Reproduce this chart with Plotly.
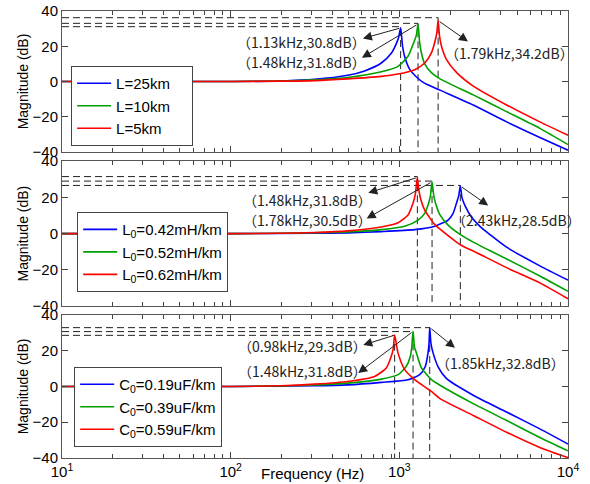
import numpy as np
import plotly.graph_objects as go
from plotly.subplots import make_subplots

# ---------------- data ----------------
# Top panel: line length L
top_names = ["L=25km", "L=10km", "L=5km"]
top_blue_f = [10, 100, 199, 314, 495, 622, 782, 896, 960, 990, 1018, 1045, 1076, 1150, 1250, 1400, 1742, 2742, 4325, 6808, 10000]
top_blue_db = [0, 0, 0.3, 1.2, 3.5, 6.0, 10.5, 16.0, 21.5, 25.0, 30.4, 20.0, 14.0, 7.0, 3.0, -0.8, -4.9, -13.3, -22.9, -31.8, -39.0]
top_green_f = [10, 100, 199, 314, 495, 782, 982, 1126, 1216, 1260, 1291, 1320, 1352, 1414, 1549, 1742, 2742, 4325, 6808, 10000]
top_green_db = [0, 0, 0.3, 1.0, 2.3, 5.5, 8.6, 14.3, 21.9, 26.0, 32.6, 22.0, 16.2, 10.0, 5.0, 1.5, -7.6, -17.1, -26.6, -35.8]
top_red_f = [10, 100, 199, 314, 495, 782, 982, 1233, 1414, 1549, 1637, 1670, 1698, 1730, 1778, 1905, 2188, 2742, 4325, 6808, 10000]
top_red_db = [0, 0, 0.2, 0.5, 1.5, 2.9, 4.2, 6.7, 10.5, 16.2, 23.8, 28.0, 34.6, 26.0, 20.0, 12.4, 5.0, -2.6, -13.3, -22.9, -30.5]
top_line_db = [31.1, 33.0, 36.2]
top_labels = ["（1.13kHz,30.8dB）", "（1.48kHz,31.8dB）", "（1.79kHz,34.2dB）"]

# Middle panel: inductance L0
mid_names = ["L<sub>0</sub>=0.42mH/km", "L<sub>0</sub>=0.52mH/km", "L<sub>0</sub>=0.62mH/km"]
mid_blue_f = [10, 100, 314, 495, 782, 1233, 1622, 1945, 2084, 2183, 2250, 2300, 2350, 2450, 2685, 3006, 3443, 4325, 6808, 10000]
mid_blue_db = [0, 0, 0.2, 0.4, 1.1, 2.2, 4.1, 7.5, 11.2, 16.9, 21.0, 26.3, 20.0, 15.5, 9.0, 4.0, -0.5, -7.5, -17.8, -25.7]
mid_green_f = [10, 100, 199, 314, 495, 782, 1076, 1291, 1414, 1493, 1530, 1563, 1600, 1650, 1742, 1945, 2339, 2742, 4325, 6808, 10000]
mid_green_db = [0, 0, 0.2, 0.5, 0.9, 2.2, 4.1, 7.5, 11.2, 16.9, 21.0, 28.6, 21.0, 16.0, 10.3, 4.7, -1.0, -4.7, -14.0, -23.4, -31.9]
mid_red_f = [10, 100, 199, 314, 495, 782, 982, 1126, 1206, 1245, 1279, 1300, 1339, 1414, 1622, 1742, 2339, 2742, 4325, 6808, 10000]
mid_red_db = [0, 0, 0.2, 0.6, 1.5, 3.7, 6.0, 10.3, 16.9, 22.0, 31.0, 25.0, 19.0, 13.0, 5.0, 2.5, -6.6, -9.6, -18.8, -27.2, -36.0]
mid_line_db = [26.6, 29.0, 31.5]
mid_labels = ["（1.48kHz,31.8dB）", "（1.78kHz,30.5dB）", "（2.43kHz,28.5dB）"]

# Bottom panel: capacitance C0
bot_names = ["C<sub>0</sub>=0.19uF/km", "C<sub>0</sub>=0.39uF/km", "C<sub>0</sub>=0.59uF/km"]
bot_blue_f = [10, 100, 314, 495, 782, 1126, 1321, 1427, 1479, 1500, 1514, 1540, 1585, 1698, 1900, 2742, 4325, 6808, 10000]
bot_blue_db = [0, 0, 0.4, 0.9, 2.3, 3.8, 6.6, 11.3, 18.8, 24.0, 33.0, 24.0, 18.8, 11.0, 4.5, -4.9, -14.3, -23.7, -32.2]
bot_green_f = [10, 100, 314, 495, 782, 982, 1101, 1162, 1185, 1206, 1230, 1262, 1352, 1549, 1742, 2742, 4325, 6808, 10000]
bot_green_db = [0, 0, 0.8, 1.9, 4.1, 6.6, 11.3, 16.9, 22.0, 30.8, 22.0, 18.8, 10.4, 3.8, 0.7, -9.6, -19.0, -28.5, -36.0]
bot_red_f = [10, 100, 199, 314, 495, 713, 837, 896, 920, 938, 982, 1076, 1233, 1549, 1742, 2742, 4325, 6808, 10000]
bot_red_db = [0, 0, 0.4, 1.3, 2.8, 5.6, 10.4, 16.9, 21.0, 28.7, 18.8, 9.4, 3.8, -2.8, -6.8, -16.2, -25.6, -34.1, -39.8]
bot_line_db = [32.9, 30.7, 28.6]
bot_labels = ["（0.98kHz,29.3dB）", "（1.48kHz,31.8dB）", "（1.85kHz,32.8dB）"]

x_tick_vals = [10, 100, 1000, 10000]
x_tick_text = ["10<sup>1</sup>", "10<sup>2</sup>", "10<sup>3</sup>", "10<sup>4</sup>"]

colors = ["#0000FF", "#00A000", "#FF0000"]

# ---------------- figure ----------------
fig = make_subplots(rows=3, cols=1)

panels = [
    (1, top_names, [(top_blue_f, top_blue_db), (top_green_f, top_green_db), (top_red_f, top_red_db)], top_line_db, "legend"),
    (2, mid_names, [(mid_blue_f, mid_blue_db), (mid_green_f, mid_green_db), (mid_red_f, mid_red_db)], mid_line_db, "legend2"),
    (3, bot_names, [(bot_blue_f, bot_blue_db), (bot_green_f, bot_green_db), (bot_red_f, bot_red_db)], bot_line_db, "legend3"),
]

peaks = {}
for row, names, curves, line_db, leg in panels:
    pk = []
    for (f, db), ldb in zip(curves, line_db):
        i = int(np.argmax(db))
        pk.append((f[i], db[i]))
        fig.add_trace(go.Scatter(x=[10, f[i], f[i]], y=[ldb, ldb, -40], mode="lines",
                                 line=dict(color="#222222", width=1, dash="7px,4px"),
                                 showlegend=False, hoverinfo="skip"), row=row, col=1)
    peaks[row] = pk
    for (f, db), name, c in zip(curves, names, colors):
        shown = name + ("&nbsp;&nbsp;&nbsp;&nbsp;" if row == 1 else "")
        fig.add_trace(go.Scatter(x=f, y=db, mode="lines", name=shown,
                                 line=dict(color=c, width=1.6, shape="spline", smoothing=0.6),
                                 legend=leg), row=row, col=1)

# annotation placement (log10 frequency, dB)
label_pos = {
    1: [(2.025, 22.6), (2.025, 11.0), (3.258, 16.2)],
    2: [(2.061, 18.4), (2.061, 7.5), (3.300, 7.5)],
    3: [(2.031, 22.6), (2.031, 8.5), (3.205, 13.2)],
}
# arrow head positions and which peak (index into blue, green, red) they start from
arrow_pos = {
    1: [((2.784, 24.4), 0), ((2.778, 13.5), 1), ((3.407, 22.7), 2)],
    2: [((2.816, 22.5), 2), ((2.806, 8.4), 1), ((3.527, 15.5), 0)],
    3: [((2.786, 23.2), 2), ((2.756, 7.5), 1), ((3.330, 21.6), 0)],
}
label_text = {1: top_labels, 2: mid_labels, 3: bot_labels}

annotations = []
for row in (1, 2, 3):
    xr = "x" if row == 1 else f"x{row}"
    yr = "y" if row == 1 else f"y{row}"
    for (lx, ly), t in zip(label_pos[row], label_text[row]):
        annotations.append(dict(x=lx, y=ly, xref=xr, yref=yr, text=t, showarrow=False,
                                xanchor="left", yanchor="middle",
                                font=dict(family="Noto Sans CJK SC", size=14, color="#222222")))
    for (hx, hy), k in arrow_pos[row]:
        pf, pdb = peaks[row][k]
        annotations.append(dict(x=hx, y=hy, xref=xr, yref=yr, ax=np.log10(pf), ay=pdb,
                                axref=xr, ayref=yr, text="", showarrow=True,
                                arrowhead=2, arrowsize=1.8, arrowwidth=1, arrowcolor="#222222",
                                standoff=0, startstandoff=0))

annotations.append(dict(x=0.496, y=-0.034, xref="paper", yref="paper", text="Frequency (Hz)",
                        showarrow=False, xanchor="center", yanchor="middle",
                        font=dict(family="Liberation Sans", size=15, color="#000000")))

minor_vals = [m * 10 ** e for e in (1, 2, 3) for m in range(2, 10)]

domains = {1: [0.6846, 1.0], 2: [0.340, 0.664], 3: [0.0, 0.320]}
for row in (1, 2, 3):
    fig.update_xaxes(type="log", range=[1, 4], tickvals=x_tick_vals, ticktext=x_tick_text,
                     ticks="inside", ticklen=6, showline=True, linecolor="#555555", linewidth=1,
                     mirror="ticks", showgrid=False, zeroline=False, automargin=False,
                     minor=dict(ticks="inside", ticklen=4, tickvals=minor_vals, showgrid=False),
                     showticklabels=(row == 3),
                     tickfont=dict(family="Liberation Sans", size=15, color="#000000"),
                     row=row, col=1)
    fig.update_yaxes(range=[-40, 40], dtick=20, ticks="inside", ticklen=6,
                     showline=True, linecolor="#555555", linewidth=1, mirror="ticks",
                     showgrid=False, zeroline=False, domain=domains[row], automargin=False,
                     tickfont=dict(family="Liberation Sans", size=15, color="#000000"),
                     title=dict(text="Magnitude (dB)", standoff=0,
                                font=dict(family="Liberation Sans", size=14, color="#000000")),
                     row=row, col=1)

legend_style = dict(bordercolor="#444444", borderwidth=1, bgcolor="white",
                    font=dict(family="Liberation Sans", size=15, color="#000000"),
                    xanchor="left", yanchor="top", tracegroupgap=0, itemwidth=34)

fig.update_layout(
    width=590, height=484,
    margin=dict(l=62, r=22, t=11, b=26, autoexpand=False),
    plot_bgcolor="white", paper_bgcolor="white",
    annotations=annotations,
    legend=dict(x=0.018, y=0.877, **legend_style),
    legend2=dict(x=0.030, y=0.550, **legend_style),
    legend3=dict(x=0.024, y=0.2036, **legend_style),
)

fig.write_html("out.html")
